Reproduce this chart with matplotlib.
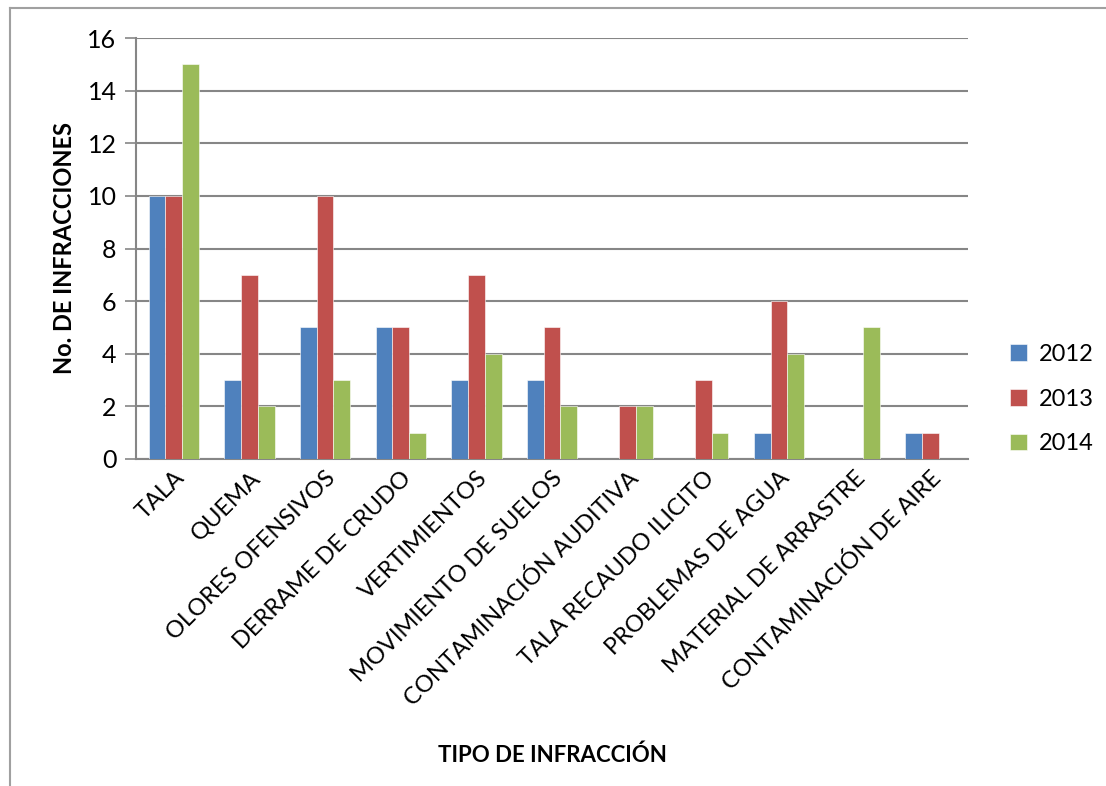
import numpy as np
import matplotlib.pyplot as plt
from matplotlib.lines import Line2D

categorias = ['TALA', 'QUEMA', 'OLORES OFENSIVOS', 'DERRAME DE CRUDO',
              'VERTIMIENTOS', 'MOVIMIENTO DE SUELOS', 'CONTAMINACIÓN AUDITIVA',
              'TALA RECAUDO ILICITO', 'PROBLEMAS DE AGUA', 'MATERIAL DE ARRASTRE',
              'CONTAMINACIÓN DE AIRE']
v2012 = [10, 3, 5, 5, 3, 3, 0, 0, 1, 0, 1]
v2013 = [10, 7, 10, 5, 7, 5, 2, 3, 6, 0, 1]
v2014 = [15, 2, 3, 1, 4, 2, 2, 1, 4, 5, 0]
anios = ['2012', '2013', '2014']
yticks = [0, 2, 4, 6, 8, 10, 12, 14, 16]

azul = '#4F81BD'
rojo = '#C0504D'
verde = '#9BBB59'
gris = '#868686'

plt.rcParams['font.family'] = ['Lato', 'DejaVu Sans']

fig = plt.figure(figsize=(11.06, 7.86), dpi=100)
ax = fig.add_axes([136/1106, 1-459/786, (968-136)/1106, (459-38)/786])

x = np.arange(len(categorias))
w = 1/4.5
series = [v2012, v2013, v2014]
colores = [azul, rojo, verde]
for i, (vals, c, lab) in enumerate(zip(series, colores, anios)):
    ax.bar(x + (i-1)*w, vals, width=w, color=c, edgecolor='white', lw=0.4, label=lab, zorder=3)

ax.set_xlim(-0.5, len(categorias)-0.5)
ax.set_ylim(0, 16)
ax.set_yticks(yticks)
ax.tick_params(axis='y', labelsize=18, length=8, width=1.2, color=gris, pad=6)
ax.yaxis.grid(True, color=gris, lw=1.5, zorder=0)
ax.set_xticks(x)
ax.set_xticklabels(categorias, rotation=45, ha='right', va='top', rotation_mode='anchor', fontsize=17)
ax.tick_params(axis='x', length=0, pad=6)

for s in ['top', 'right']:
    ax.spines[s].set_visible(False)
for s in ['left', 'bottom']:
    ax.spines[s].set_color(gris)
    ax.spines[s].set_linewidth(1.5)

ax.set_ylabel('No. DE INFRACCIONES', fontsize=17, fontweight='bold')
ax.yaxis.set_label_coords(-(136-76)/(968-136), 0.5)
ax.set_xlabel('TIPO DE INFRACCIÓN', fontsize=16, fontweight='bold')
ax.xaxis.set_label_coords((552-136)/(968-136), -(745-459)/(459-38))

leg = ax.legend(loc='center left', bbox_to_anchor=(1.025, (459-399)/(459-38)), frameon=False,
                fontsize=17, handlelength=0.7, handleheight=0.7, labelspacing=1.0,
                handletextpad=0.5)

# marco del grafico
fig.add_artist(Line2D([10/1106, 10/1106], [0, 1-8/786], color='#A0A0A0', lw=1.5))
fig.add_artist(Line2D([10/1106, 1], [1-8/786, 1-8/786], color='#A0A0A0', lw=1.5))

fig.savefig('out.png', dpi=100, facecolor='white')
